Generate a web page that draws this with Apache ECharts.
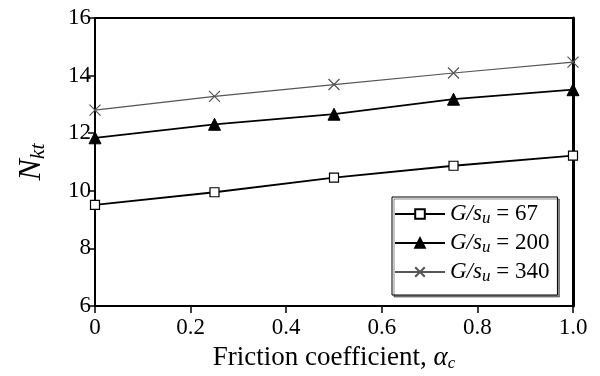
<!DOCTYPE html>
<html>
<head>
<meta charset="utf-8">
<script src="https://cdn.jsdelivr.net/npm/echarts@6/dist/echarts.min.js"></script>
<style>
  html, body { margin: 0; padding: 0; background: #fff; }
  #chart { width: 600px; height: 376px; }
</style>
</head>
<body>
<div id="chart"></div>
<script>
// Friction coefficient values along the x axis
const frictionCoeff = [0, 0.25, 0.5, 0.75, 1.0];
// N_kt for each shear-stiffness ratio G/s_u
const nkt67  = [9.51, 9.95, 10.46, 10.87, 11.22];
const nkt200 = [11.84, 12.31, 12.66, 13.18, 13.51];
const nkt340 = [12.80, 13.28, 13.69, 14.09, 14.47];
const ratioLabels = ['67', '200', '340'];
const xTicks = [0, 0.2, 0.4, 0.6, 0.8, 1.0];
const yTicks = [6, 8, 10, 12, 14, 16];

const FONT = '"Liberation Serif", "DejaVu Serif", serif';
const pairs = (ys) => frictionCoeff.map((x, i) => [x, ys[i]]);
const seriesName = (r) => 'G/su = ' + r;
const crossPath = 'path://M0,0L10,10M10,0L0,10';

const chart = echarts.init(document.getElementById('chart'));
chart.setOption({
  backgroundColor: '#fff',
  animation: false,
  textStyle: { fontFamily: FONT, color: '#000' },
  grid: { left: 95, right: 27, top: 18, bottom: 70, containLabel: false, outerBoundsMode: 'none' },
  xAxis: [{
    type: 'value', min: xTicks[0], max: xTicks[xTicks.length - 1], interval: 0.2,
    axisLine: { lineStyle: { color: '#000', width: 2 } },
    axisTick: { inside: false, length: 7, lineStyle: { color: '#000', width: 1.5 } },
    splitLine: { show: false },
    axisLabel: {
      fontFamily: FONT, fontSize: 23, color: '#000', margin: 10,
      formatter: (v) => (v === 0 ? '0' : v.toFixed(1))
    },
    name: '{t|Friction coefficient, }{a|α}{s|c}',
    nameLocation: 'middle', nameGap: 37,
    nameTextStyle: {
      rich: {
        t: { fontFamily: FONT, fontSize: 27, color: '#000' },
        a: { fontFamily: FONT, fontSize: 27, fontStyle: 'italic', color: '#000' },
        s: { fontFamily: FONT, fontSize: 17, fontStyle: 'italic', color: '#000', padding: [12, 0, 0, 0] }
      }
    }
  }, {
    type: 'value', position: 'top', min: 0, max: 1,
    axisLine: { show: true, onZero: false, lineStyle: { color: '#000', width: 2 } },
    axisTick: { show: false }, axisLabel: { show: false }, splitLine: { show: false }
  }],
  yAxis: [{
    type: 'value', min: yTicks[0], max: yTicks[yTicks.length - 1], interval: 2,
    axisLine: { show: true, lineStyle: { color: '#000', width: 2 } },
    axisTick: { show: true, inside: false, length: 7, lineStyle: { color: '#000', width: 1.5 } },
    splitLine: { show: false },
    axisLabel: { fontFamily: FONT, fontSize: 23, color: '#000', margin: 4 },
    name: '{n|N}{s|kt}',
    nameLocation: 'middle', nameGap: 46, nameRotate: 90,
    nameTextStyle: {
      rich: {
        n: { fontFamily: FONT, fontSize: 32, fontStyle: 'italic', color: '#000' },
        s: { fontFamily: FONT, fontSize: 22, fontStyle: 'italic', color: '#000', padding: [12, 0, 0, 0] }
      }
    }
  }, {
    type: 'value', position: 'right', min: 6, max: 16,
    axisLine: { show: true, onZero: false, lineStyle: { color: '#000', width: 3 } },
    axisTick: { show: false }, axisLabel: { show: false }, splitLine: { show: false }
  }],
  legend: {
    orient: 'vertical',
    left: 392, top: 197,
    width: 164,
    padding: [4, 8, 10, 2],
    itemGap: 3,
    itemWidth: 50, itemHeight: 12,
    backgroundColor: '#fff',
    borderColor: '#000', borderWidth: 1,
    shadowColor: 'rgba(0,0,0,0.45)', shadowOffsetX: 2, shadowOffsetY: 2, shadowBlur: 0,
    data: ratioLabels.map(seriesName),
    formatter: (name) => '{g|G/s}{u|u}{e| = ' + name.split('= ')[1] + '}',
    textStyle: {
      rich: {
        g: { fontFamily: FONT, fontSize: 23, lineHeight: 25, fontStyle: 'italic', color: '#000' },
        u: { fontFamily: FONT, fontSize: 17, lineHeight: 16, fontStyle: 'italic', color: '#000', padding: [9, 0, 0, 0] },
        e: { fontFamily: FONT, fontSize: 23, lineHeight: 25, color: '#000' }
      }
    }
  },
  series: [{
    name: seriesName(ratioLabels[0]), type: 'line', data: pairs(nkt67),
    symbol: 'rect', symbolSize: 9,
    lineStyle: { color: '#000', width: 1.8 },
    itemStyle: { color: '#fff', borderColor: '#000', borderWidth: 1.2 }
  }, {
    name: seriesName(ratioLabels[1]), type: 'line', data: pairs(nkt200),
    symbol: 'triangle', symbolSize: 12,
    lineStyle: { color: '#000', width: 1.8 },
    itemStyle: { color: '#000', borderColor: '#000', borderWidth: 1 }
  }, {
    name: seriesName(ratioLabels[2]), type: 'line', data: pairs(nkt340),
    symbol: crossPath, symbolSize: 11,
    lineStyle: { color: '#555', width: 1.2 },
    itemStyle: { color: 'transparent', borderColor: '#555', borderWidth: 1.2 }
  }]
});
</script>
</body>
</html>
